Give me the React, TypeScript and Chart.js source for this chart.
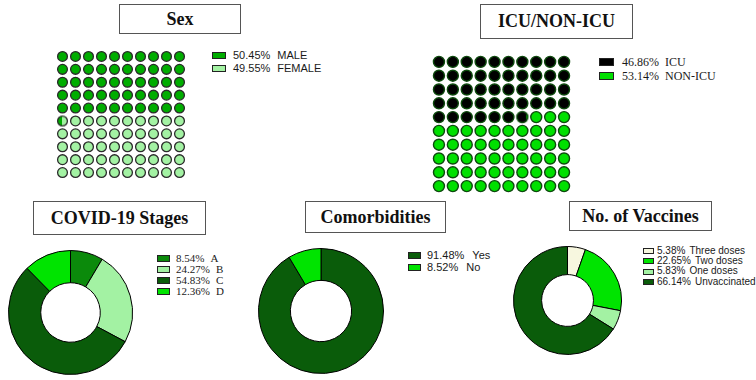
import React, { useEffect, useRef } from "react";
import { Chart, registerables } from "chart.js";

Chart.register(...registerables);

// ---------- data ----------
const sexLabels = ["MALE", "FEMALE"];
const sexValues = [50.45, 49.55];
const sexColors = ["#00ad00", "#a3f2a3"];

const icuLabels = ["ICU", "NON-ICU"];
const icuValues = [46.86, 53.14];
const icuColors = ["#000000", "#00e000"];

const stageLabels = ["A", "B", "C", "D"];
const stageValues = [8.54, 24.27, 54.83, 12.36];
const stageColors = ["#0b8a0b", "#a3f2a3", "#0a5c0a", "#00e400"];

const comorbLabels = ["Yes", "No"];
const comorbValues = [91.48, 8.52];
const comorbColors = ["#0a5c0a", "#00e400"];

const vaccineLabels = ["Three doses", "Two doses", "One doses", "Unvaccinated"];
const vaccineValues = [5.38, 22.65, 5.83, 66.14];
const vaccineColors = ["#f7f7df", "#00e400", "#a3f2a3", "#0a5c0a"];

const GRID = 10;

// ---------- helpers ----------
function makePartialPoint(r: number, bw: number, frac: number, colA: string, colB: string, border: string) {
  const size = Math.ceil(2 * (r + bw)) + 2;
  const c = document.createElement("canvas");
  c.width = size;
  c.height = size;
  const ctx = c.getContext("2d")!;
  const cx = size / 2;
  ctx.beginPath();
  ctx.arc(cx, cx, r, 0, Math.PI * 2);
  ctx.fillStyle = colB;
  ctx.fill();
  ctx.save();
  ctx.beginPath();
  ctx.rect(cx - r, 0, 2 * r * frac, size);
  ctx.clip();
  ctx.beginPath();
  ctx.arc(cx, cx, r, 0, Math.PI * 2);
  ctx.fillStyle = colA;
  ctx.fill();
  ctx.restore();
  ctx.beginPath();
  ctx.arc(cx, cx, r, 0, Math.PI * 2);
  ctx.lineWidth = bw;
  ctx.strokeStyle = border;
  ctx.stroke();
  return c;
}

type WaffleProps = {
  left: number; top: number; width: number; height: number;
  values: number[]; colors: string[]; radius: number; bw: number; border: string;
};

function Waffle(p: WaffleProps) {
  const ref = useRef<HTMLCanvasElement>(null);
  useEffect(() => {
    const total = GRID * GRID;
    const cum: number[] = [];
    let s = 0;
    p.values.forEach((v) => { s += v; cum.push(s); });
    const full: { x: number; y: number }[][] = p.values.map(() => []);
    const partials: { x: number; y: number; style: HTMLCanvasElement }[] = [];
    for (let i = 0; i < total; i++) {
      const lo = (i * 100) / total;
      const hi = ((i + 1) * 100) / total;
      const x = i % GRID;
      const y = Math.floor(i / GRID);
      let k = cum.findIndex((c) => c > lo + 1e-9);
      if (k < 0) k = p.values.length - 1;
      if (cum[k] < hi - 1e-9 && k < p.values.length - 1) {
        const frac = (cum[k] - lo) / (hi - lo);
        partials.push({ x, y, style: makePartialPoint(p.radius, p.bw, frac, p.colors[k], p.colors[k + 1], p.border) });
      } else {
        full[k].push({ x, y });
      }
    }
    const datasets: any[] = full.map((pts, k) => ({
      data: pts,
      backgroundColor: p.colors[k],
      borderColor: p.border,
      borderWidth: p.bw,
      pointRadius: p.radius,
      clip: false,
    }));
    partials.forEach((pt) => {
      datasets.push({
        data: [{ x: pt.x, y: pt.y }],
        pointStyle: pt.style,
        pointRadius: p.radius,
        clip: false,
      });
    });
    const chart = new Chart(ref.current!, {
      type: "scatter",
      data: { datasets },
      options: {
        responsive: false,
        animation: false,
        events: [],
        layout: { padding: 0, autoPadding: false } as any,
        plugins: { legend: { display: false }, tooltip: { enabled: false } },
        scales: {
          x: { display: false, min: -0.5, max: GRID - 0.5 },
          y: { display: false, min: -0.5, max: GRID - 0.5, reverse: true },
        },
      },
    });
    return () => chart.destroy();
  }, []);
  return (
    <canvas
      ref={ref}
      width={p.width}
      height={p.height}
      style={{ position: "absolute", left: p.left, top: p.top, width: p.width, height: p.height }}
    />
  );
}

type DonutProps = { left: number; top: number; size: number; values: number[]; colors: string[]; labels: string[]; cutout: string };

function Donut(p: DonutProps) {
  const ref = useRef<HTMLCanvasElement>(null);
  useEffect(() => {
    const chart = new Chart(ref.current!, {
      type: "doughnut",
      data: {
        labels: p.labels,
        datasets: [{ data: p.values, backgroundColor: p.colors, borderColor: "#000000", borderWidth: 1 }],
      },
      options: {
        responsive: false,
        animation: false,
        events: [],
        cutout: p.cutout,
        layout: { padding: 0 },
        plugins: { legend: { display: false }, tooltip: { enabled: false } },
      },
    });
    return () => chart.destroy();
  }, []);
  return (
    <canvas
      ref={ref}
      width={p.size}
      height={p.size}
      style={{ position: "absolute", left: p.left, top: p.top, width: p.size, height: p.size }}
    />
  );
}

type LegendProps = {
  left: number; top: number; lineH: number; swW: number; swH: number; textLeft: number;
  font: string; size: number; gap: number; labels: string[]; values: number[]; colors: string[];
};

function Legend(p: LegendProps) {
  return (
    <>
      {p.labels.map((lab, i) => (
        <div key={lab} style={{ position: "absolute", left: p.left, top: p.top + i * p.lineH - p.lineH / 2, height: p.lineH, display: "flex", alignItems: "center", whiteSpace: "nowrap" }}>
          <div style={{ width: p.swW, height: p.swH, background: p.colors[i], border: "1.5px solid #222", boxSizing: "border-box" }} />
          <span style={{ marginLeft: p.textLeft - p.left - p.swW, fontFamily: p.font, fontSize: p.size, color: "#1a1a1a", lineHeight: `${p.lineH}px` }}>
            {p.values[i].toFixed(2)}%
            <span style={{ marginLeft: p.gap }}>{lab}</span>
          </span>
        </div>
      ))}
    </>
  );
}

function TitleBox({ left, top, width, height, text }: { left: number; top: number; width: number; height: number; text: string }) {
  return (
    <div
      style={{
        position: "absolute", left, top, width, height, boxSizing: "border-box",
        border: "1.5px solid #555", display: "flex", alignItems: "center", justifyContent: "center",
        fontFamily: "'Liberation Serif', 'Times New Roman', serif", fontWeight: "bold", fontSize: 18, color: "#111",
        background: "#fff",
      }}
    >
      {text}
    </div>
  );
}

const SANS = "'Liberation Sans', Arial, sans-serif";
const SERIF = "'Liberation Serif', 'Times New Roman', serif";

export default function App() {
  return (
    <div style={{ position: "fixed", left: 0, top: 0, width: 756, height: 380, background: "#fff", overflow: "hidden" }}>
      <TitleBox left={119} top={4} width={122} height={30} text="Sex" />
      <TitleBox left={480} top={4} width={153} height={35} text="ICU/NON-ICU" />
      <TitleBox left={33} top={201} width={173} height={34} text="COVID-19 Stages" />
      <TitleBox left={305} top={201} width={141} height={32} text="Comorbidities" />
      <TitleBox left={569} top={201} width={143} height={30} text="No. of Vaccines" />

      <Waffle left={55.5} top={49.5} width={130} height={129} values={sexValues} colors={sexColors} radius={4.9} bw={1.3} border="#2a2a2a" />
      <Legend left={212} top={55} lineH={13} swW={14} swH={7} textLeft={233} font={SANS} size={11} gap={7} labels={sexLabels} values={sexValues} colors={sexColors} />

      <Waffle left={432} top={55} width={139} height={138} values={icuValues} colors={icuColors} radius={5.5} bw={1.4} border="#0d4a0d" />
      <Legend left={599} top={62} lineH={14} swW={15} swH={8} textLeft={622} font={SERIF} size={12} gap={6} labels={icuLabels} values={icuValues} colors={icuColors} />

      <Donut left={7.5} top={249.5} size={125} values={stageValues} colors={stageColors} labels={stageLabels} cutout="48%" />
      <Legend left={157} top={258} lineH={11} swW={13} swH={7} textLeft={176} font={SERIF} size={11} gap={6} labels={stageLabels} values={stageValues} colors={stageColors} />

      <Donut left={257.5} top={248} size={126} values={comorbValues} colors={comorbColors} labels={comorbLabels} cutout="49%" />
      <Legend left={408} top={255} lineH={12} swW={13} swH={7} textLeft={427} font={SANS} size={11} gap={8} labels={comorbLabels} values={comorbValues} colors={comorbColors} />

      <Donut left={512.5} top={246} size={109} values={vaccineValues} colors={vaccineColors} labels={vaccineLabels} cutout="48%" />
      <Legend left={643} top={251} lineH={10.3} swW={11} swH={6} textLeft={657} font={SANS} size={10} gap={4} labels={vaccineLabels} values={vaccineValues} colors={vaccineColors} />
    </div>
  );
}
